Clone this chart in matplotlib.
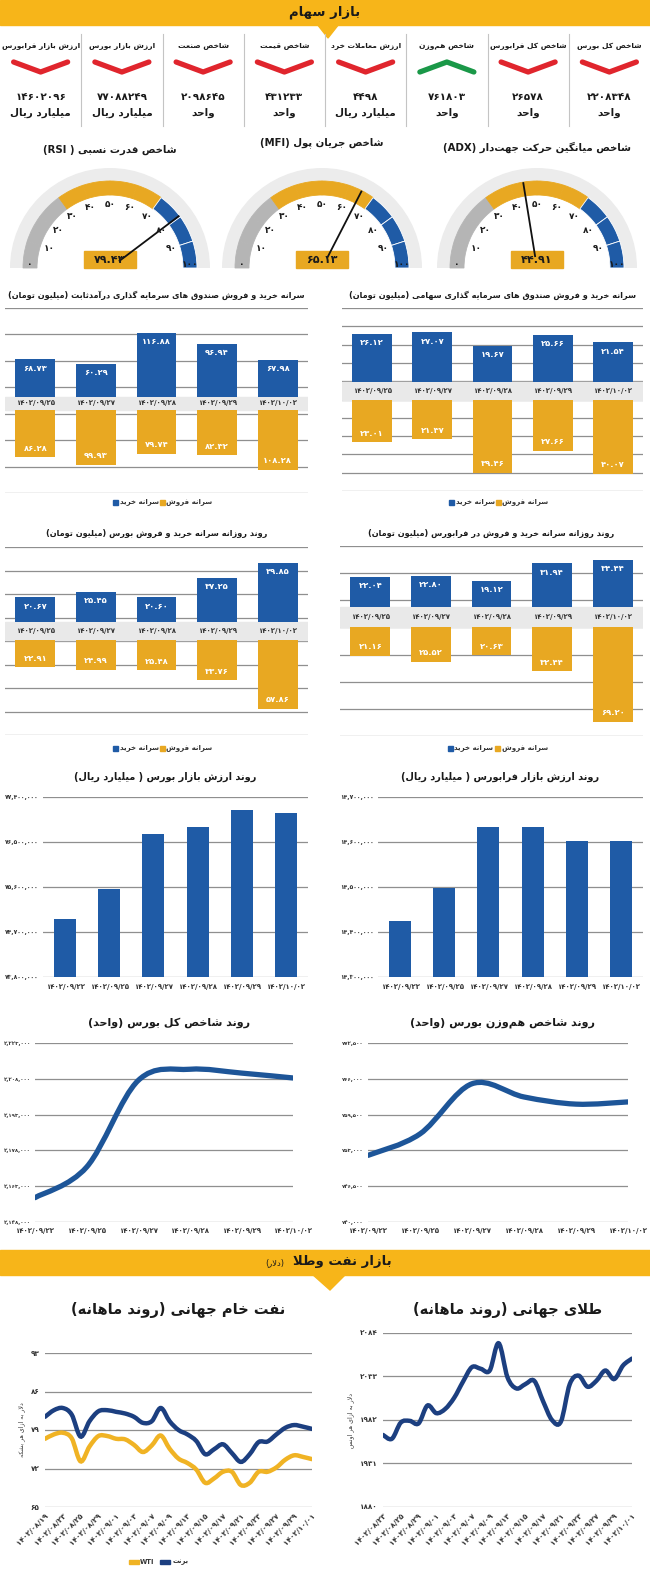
#!/usr/bin/env python3
# Stock market / oil & gold daily infographic, redrawn with matplotlib.

import re

import matplotlib
matplotlib.use("Agg")
from matplotlib import pyplot as plt
from matplotlib.patches import Rectangle, Wedge, Polygon, PathPatch
from matplotlib.path import Path
import numpy as np

plt.rcParams["font.family"] = ["DejaVu Sans"]

W, H = 650, 1571

BLUE = "#1f5ba6"
GOLD = "#e8a822"
HEAD = "#f7b519"
NAVY = "#1c3f80"
BAND = "#e9e9e9"
GRID = "#8f8f8f"
TXT = "#1a1a1a"

# ---- data -------------------------------------------------------------
TOP_LABELS = ["شاخص کل بورس", "شاخص کل فرابورس", "شاخص هم‌وزن",
              "ارزش معاملات خرد", "شاخص قیمت", "شاخص صنعت",
              "ارزش بازار بورس", "ارزش بازار فرابورس"]
TOP_VALUES = [2208348, 26578, 761803, 4498, 431233, 2098645,
              77088249, 14602096]
TOP_UNITS = ["واحد", "واحد", "واحد", "میلیارد ریال", "واحد", "واحد",
             "میلیارد ریال", "میلیارد ریال"]
TOP_UP = [False, False, True, False, False, False, False, False]

GAUGE_TITLES = ["شاخص قدرت نسبی ( RSI)", "شاخص جریان پول (MFI)",
                "شاخص میانگین حرکت جهت‌دار (ADX)"]
GAUGE_VALUES = [79.43, 65.13, 44.91]

FLOW_DATES = ["1402/09/25", "1402/09/27", "1402/09/28", "1402/09/29",
              "1402/10/02"]
FI_BUY = [68.73, 60.29, 116.88, 96.94, 67.98]
FI_SELL = [86.28, 99.93, 79.74, 82.32, 108.28]
EQ_BUY = [26.12, 27.07, 19.67, 25.66, 21.54]
EQ_SELL = [23.01, 21.37, 39.46, 27.66, 40.07]
BOURSE_BUY = [20.67, 25.45, 20.60, 37.25, 49.85]
BOURSE_SELL = [22.91, 24.99, 25.48, 33.76, 57.86]
FARA_BUY = [22.04, 22.80, 19.12, 31.94, 34.44]
FARA_SELL = [21.16, 25.52, 20.63, 32.44, 69.20]

TREND_DATES = ["1402/09/22", "1402/09/25", "1402/09/27", "1402/09/28",
               "1402/09/29", "1402/10/02"]
BOURSE_VALUE = [74967000, 75567000, 76653000, 76800000, 77147000, 77088249]
FARA_VALUE = [14423700, 14497800, 14633300, 14633300, 14602096, 14602096]
TOTAL_INDEX = [2158200, 2171000, 2207300, 2212000, 2210400, 2208348]
EQW_INDEX = [752100, 756000, 765100, 762700, 761400, 761803]

OIL_DATES = ["1402/08/19", "1402/08/23", "1402/08/25", "1402/08/29",
             "1402/09/01", "1402/09/03", "1402/09/07", "1402/09/09",
             "1402/09/13", "1402/09/15", "1402/09/17", "1402/09/21",
             "1402/09/23", "1402/09/27", "1402/09/29", "1402/10/01"]
BRENT = [81.4, 82.6, 83.0, 81.8, 77.8, 80.6, 82.4, 82.6, 82.3, 82.0, 81.4,
         80.3, 80.6, 83.0, 80.6, 79.0, 78.2, 77.0, 74.6, 75.5, 76.4, 74.8,
         73.2, 74.6, 76.8, 76.9, 78.2, 79.4, 79.9, 79.6, 79.2]
WTI = [77.4, 78.2, 78.5, 77.5, 73.3, 76.0, 77.9, 77.9, 77.4, 77.3, 76.3,
       75.0, 76.2, 78.0, 75.6, 73.8, 73.0, 71.8, 69.4, 70.2, 71.4, 71.4,
       69.0, 69.4, 71.4, 71.4, 72.2, 73.6, 74.4, 74.1, 73.7]

GOLD_DATES = ["1402/08/23", "1402/08/25", "1402/08/29", "1402/09/01",
              "1402/09/03", "1402/09/07", "1402/09/09", "1402/09/13",
              "1402/09/15", "1402/09/17", "1402/09/21", "1402/09/23",
              "1402/09/27", "1402/09/29", "1402/10/01"]
GOLD_PRICE = [1964.5, 1960, 1979, 1981, 1978, 1999, 1990, 1995, 2008, 2027,
              2044, 2042, 2040, 2072, 2032, 2019, 2024, 2028, 2004, 1982,
              1980, 2024, 2034, 2021, 2028, 2040, 2030, 2046, 2054]

# ---- persian text helpers ----------------------------------------------
DUAL = {"ب": 0xFE8F, "ت": 0xFE95, "ث": 0xFE99, "ج": 0xFE9D, "ح": 0xFEA1,
        "خ": 0xFEA5, "س": 0xFEB1, "ش": 0xFEB5, "ص": 0xFEB9, "ض": 0xFEBD,
        "ط": 0xFEC1, "ظ": 0xFEC5, "ع": 0xFEC9, "غ": 0xFECD, "ف": 0xFED1,
        "ق": 0xFED5, "ك": 0xFED9, "ل": 0xFEDD, "م": 0xFEE1, "ن": 0xFEE5,
        "ه": 0xFEE9, "ي": 0xFEF1, "ی": 0xFBFC, "پ": 0xFB56, "چ": 0xFB7A,
        "ک": 0xFB8E, "گ": 0xFB92, "ئ": 0xFE89}
RIGHT = {"ا": 0xFE8D, "آ": 0xFE81, "د": 0xFEA9, "ذ": 0xFEAB, "ر": 0xFEAD,
         "ز": 0xFEAF, "ژ": 0xFB8A, "و": 0xFEED, "ة": 0xFE93}


def shape(s):
    out = []
    prev_joins = False
    i = 0
    while i < len(s):
        c = s[i]
        nxt = s[i + 1] if i + 1 < len(s) else ""
        if c == "ل" and nxt in ("ا", "آ"):
            lig = 0xFEFB if nxt == "ا" else 0xFEF5
            out.append(chr(lig + (1 if prev_joins else 0)))
            prev_joins = False
            i += 2
            continue
        if c in DUAL or c in RIGHT:
            base = DUAL.get(c, RIGHT.get(c))
            nj = c in DUAL and (nxt in DUAL or nxt in RIGHT)
            if prev_joins and nj:
                form = 3
            elif prev_joins:
                form = 1
            elif nj:
                form = 2
            else:
                form = 0
            out.append(chr(base + form))
            prev_joins = c in DUAL
        else:
            if c != "\u200c":
                out.append(c)
            prev_joins = False
        i += 1
    return "".join(out)


def fd(s):
    return str(s).translate(str.maketrans("0123456789", "۰۱۲۳۴۵۶۷۸۹"))


def fa(s):
    rev = shape(fd(s))[::-1]
    rev = re.sub(r"[A-Za-z0-9۰-۹.,/]+", lambda m: m.group(0)[::-1], rev)
    return rev.translate(str.maketrans("()", ")("))


# ---- figure -----------------------------------------------------------
fig = plt.figure(figsize=(W / 100, H / 100), dpi=100)
bg = fig.add_axes([0, 0, 1, 1])
bg.set_xlim(0, W)
bg.set_ylim(H, 0)
bg.axis("off")


def add_ax(x0, y0, x1, y1):
    ax = fig.add_axes([x0 / W, 1 - y1 / H, (x1 - x0) / W, (y1 - y0) / H])
    ax.patch.set_visible(False)
    for sp in ax.spines.values():
        sp.set_visible(False)
    return ax


# header
bg.add_patch(Rectangle((0, 0), W, 25, color=HEAD))
bg.add_patch(Polygon([[317, 24], [339, 24], [328, 38]], color=HEAD))
bg.text(325, 12, fa("بازار سهام"), ha="center", va="center", fontsize=9.5,
        fontweight="bold", color=TXT)

col_w = W / 8
for k in range(1, 8):
    bg.plot([k * col_w] * 2, [34, 126], color="#c4c4c4", lw=0.8)
for i, (lab, val, unit, up) in enumerate(zip(TOP_LABELS, TOP_VALUES,
                                             TOP_UNITS, TOP_UP)):
    cx = W - (i + 0.5) * col_w
    bg.text(cx, 46, fa(lab), ha="center", va="center", fontsize=5.4,
            fontweight="bold", color=TXT)
    ys = [72, 62, 72] if up else [62, 72, 62]
    bg.plot([cx - 27, cx, cx + 27], ys, color="#1a9848" if up else "#e0252d",
            lw=3.8, solid_capstyle="round", solid_joinstyle="round")
    bg.text(cx, 97, fd(val), ha="center", va="center", fontsize=7.5,
            fontweight="bold", color=TXT)
    bg.text(cx, 113, fa(unit), ha="center", va="center", fontsize=7.5,
            fontweight="bold", color=TXT)

# gauges
GAUGE_X = [110, 322, 537]
GAUGE_TITLE_Y = [150, 143, 147]
for cx, ty, title, val in zip(GAUGE_X, GAUGE_TITLE_Y, GAUGE_TITLES,
                              GAUGE_VALUES):
    cy, R = 268, 100
    bg.text(cx, ty, fa(title), ha="center", va="center", fontsize=7.3,
            fontweight="bold", color=TXT)
    bg.add_patch(Wedge((cx, cy), R, 180, 360, width=0.13 * R, fc="#ececec",
                       ec="none"))
    for v in range(0, 100, 10):
        col = "#b5b5b5" if v < 30 else (GOLD if v < 70 else BLUE)
        bg.add_patch(Wedge((cx, cy), 0.87 * R, 180 + 1.8 * v,
                           180 + 1.8 * (v + 10), width=0.14 * R, fc=col,
                           ec="white" if v >= 70 else col, lw=0.6))
    for v in range(0, 101, 10):
        a = np.radians(180 + 1.8 * v)
        r = 0.8 * R if v in (0, 100) else 0.64 * R
        dy = -4 if v in (0, 100) else 0
        bg.text(cx + r * np.cos(a), cy + r * np.sin(a) + dy, fd(v),
                ha="center", va="center", fontsize=6.5, fontweight="bold",
                color=TXT)
    a = np.radians(180 + 1.8 * val)
    bg.plot([cx + 0.12 * R * np.cos(a), cx + 0.86 * R * np.cos(a)],
            [cy + 0.12 * R * np.sin(a), cy + 0.86 * R * np.sin(a)],
            color="#111111", lw=1.3)
    bg.add_patch(Rectangle((cx - 26, cy - 17), 52, 17, color=GOLD))
    bg.text(cx, cy - 8.5, fd(f"{val:.2f}"), ha="center", va="center",
            fontsize=8, fontweight="bold", color=TXT)


# buy / sell per-capita charts
def flow_chart(x0, x1, top, bot, yc, hb, s, ngrid, title, title_y, legend_y,
               buy, sell):
    ax = add_ax(x0, top, x1, bot)
    ymax, ymin = (yc - top) / s, (yc - bot) / s
    h = hb / s
    ax.set_ylim(ymin, ymax)
    ax.set_xlim(-0.5, len(buy) - 0.5)
    for gy in np.linspace(ymin, ymax, ngrid):
        ax.axhline(gy, color=GRID, lw=0.9, zorder=0)
    ax.axhspan(-h, h, color=BAND, zorder=1)
    x = np.arange(len(buy))
    ax.bar(x, buy, 0.66, bottom=h, color=BLUE, zorder=2)
    ax.bar(x, -np.array(sell), 0.66, bottom=-h, color=GOLD, zorder=2)
    off = 9 / s
    for xi, b, sv, d in zip(x, buy, sell, FLOW_DATES):
        ax.text(xi, h + max(b - off, b / 2), fd(f"{b:.2f}"), ha="center",
                va="center", fontsize=6, fontweight="bold", color="white",
                zorder=3)
        ax.text(xi, -h - max(sv - off, sv / 2), fd(f"{sv:.2f}"),
                ha="center", va="center", fontsize=6, fontweight="bold",
                color="white", zorder=3)
        ax.text(xi, 0, fd(d), ha="center", va="center", fontsize=5,
                fontweight="bold", color="#333333", zorder=3)
    ax.set_xticks([])
    ax.set_yticks([])
    mid = (x0 + x1) / 2
    bg.text(mid, title_y, fa(title), ha="center", va="center", fontsize=5.9,
            fontweight="bold", color=TXT)
    bg.add_patch(Rectangle((mid - 44, legend_y - 2.5), 5, 5, color=BLUE))
    bg.text(mid - 37, legend_y, fa("سرانه خرید"), ha="left", va="center",
            fontsize=5, fontweight="bold", color="#333333")
    bg.add_patch(Rectangle((mid + 3, legend_y - 2.5), 5, 5, color=GOLD))
    bg.text(mid + 10, legend_y, fa("سرانه فروش"), ha="left", va="center",
            fontsize=5, fontweight="bold", color="#333333")


flow_chart(5, 308, 308, 493, 403.5, 6.5, 0.55, 8,
           "سرانه خرید و فروش صندوق های سرمایه گذاری درآمدثابت (میلیون تومان)",
           295, 502, FI_BUY, FI_SELL)
flow_chart(342, 643, 308, 491, 391, 9, 1.84, 11,
           "سرانه خرید و فروش صندوق های سرمایه گذاری سهامی (میلیون تومان)",
           295, 502, EQ_BUY, EQ_SELL)
flow_chart(5, 308, 547, 735, 631, 9, 1.19, 9,
           "روند روزانه سرانه خرید و فروش بورس (میلیون تومان)",
           533, 748, BOURSE_BUY, BOURSE_SELL)
flow_chart(340, 643, 546, 736, 617, 10, 1.37, 8,
           "روند روزانه سرانه خرید و فروش در فرابورس (میلیون تومان)",
           533, 748, FARA_BUY, FARA_SELL)


def style_axis(ax, ticks, ylab_size):
    ax.set_yticks(ticks)
    ax.set_yticklabels([fd(f"{t:,}") for t in ticks], fontsize=ylab_size,
                       fontweight="bold", color="#333333")
    ax.tick_params(length=0, pad=3)
    ax.grid(axis="y", color=GRID, lw=0.9)
    ax.set_axisbelow(True)


# market value bar charts
def value_chart(x0, x1, title, values, ticks):
    ax = add_ax(x0, 797, x1, 977)
    x = np.arange(len(values))
    ax.bar(x, values, 0.5, color=BLUE, zorder=2)
    ax.set_xlim(-0.5, len(values) - 0.5)
    ax.set_ylim(ticks[0], ticks[-1])
    style_axis(ax, ticks, 4.3)
    ax.set_xticks(x)
    ax.set_xticklabels([fd(d) for d in TREND_DATES], fontsize=5,
                       fontweight="bold", color="#333333")
    ax.tick_params(axis="x", pad=5)
    bg.text((x0 + x1) / 2 - 10, 777, fa(title), ha="center", va="center",
            fontsize=7, fontweight="bold", color=TXT)


value_chart(43, 308, "روند ارزش بازار بورس ( میلیارد ریال)", BOURSE_VALUE,
            [73800000, 74700000, 75600000, 76500000, 77400000])
value_chart(378, 643, "روند ارزش بازار فرابورس ( میلیارد ریال)", FARA_VALUE,
            [14300000, 14400000, 14500000, 14600000, 14700000])


def smooth_path(x, y):
    verts = [(x[0], y[0])]
    codes = [Path.MOVETO]
    n = len(x)
    for i in range(n - 1):
        p0 = (x[max(i - 1, 0)], y[max(i - 1, 0)])
        p1 = (x[i], y[i])
        p2 = (x[i + 1], y[i + 1])
        p3 = (x[min(i + 2, n - 1)], y[min(i + 2, n - 1)])
        c1 = (p1[0] + (p2[0] - p0[0]) / 6, p1[1] + (p2[1] - p0[1]) / 6)
        c2 = (p2[0] - (p3[0] - p1[0]) / 6, p2[1] - (p3[1] - p1[1]) / 6)
        verts += [c1, c2, p2]
        codes += [Path.CURVE4] * 3
    return Path(verts, codes)


def trend_chart(x0, x1, title, values, ticks):
    ax = add_ax(x0, 1043, x1, 1222)
    x = np.arange(len(values))
    ax.add_patch(PathPatch(smooth_path(x, values), fill=False, ec="#1d5598",
                           lw=3.8, capstyle="round", zorder=3))
    ax.set_xlim(0, len(values) - 1)
    ax.set_ylim(ticks[0], ticks[-1])
    style_axis(ax, ticks, 3.9)
    ax.set_xticks(x)
    ax.set_xticklabels([fd(d) for d in TREND_DATES], fontsize=5,
                       fontweight="bold", color="#333333")
    ax.tick_params(axis="x", pad=4)
    bg.text((x0 + x1) / 2 + 5, 1023, fa(title), ha="center", va="center",
            fontsize=8, fontweight="bold", color=TXT)


trend_chart(35, 293, "روند شاخص کل بورس (واحد)", TOTAL_INDEX,
            [2148000, 2163000, 2178000, 2193000, 2208000, 2223000])
trend_chart(368, 628, "روند شاخص هم‌وزن بورس (واحد)", EQW_INDEX,
            [740000, 746500, 753000, 759500, 766000, 772500])

# oil & gold header
bg.add_patch(Rectangle((0, 1250), W, 25, color=HEAD))
bg.add_patch(Polygon([[312, 1274], [346, 1274], [330, 1290]], color=HEAD))
bg.text(392, 1262, fa("بازار نفت وطلا"), ha="right", va="center",
        fontsize=9.5, fontweight="bold", color=TXT)
bg.text(284, 1263, fa("(دلار)"), ha="right", va="center", fontsize=6,
        color=TXT)


def monthly_chart(x0, x1, y0, title, ylabel, series, dates, ticks):
    ax = add_ax(x0, y0, x1, 1507)
    n = len(series[0][0])
    x = np.arange(n)
    for vals, col in series:
        ax.add_patch(PathPatch(smooth_path(x, vals), fill=False, ec=col,
                               lw=3.2, capstyle="round", zorder=3))
    ax.set_xlim(0, n - 1)
    ax.set_ylim(ticks[0], ticks[-1])
    ax.set_yticks(ticks)
    ax.set_yticklabels([fd(t) for t in ticks], fontsize=5.2,
                       fontweight="bold", color="#333333")
    ax.grid(axis="y", color=GRID, lw=0.9)
    ax.set_xticks(np.arange(0, n, 2))
    ax.set_xticklabels([fd(d) for d in dates], fontsize=5.3,
                       fontweight="bold", color="#333333", rotation=45,
                       ha="right", rotation_mode="anchor")
    ax.tick_params(length=0, pad=4)
    ax.set_ylabel(fa(ylabel), fontsize=4.5, color="#333333", labelpad=4)
    bg.text((x0 + x1) / 2, 1310, fa(title), ha="center", va="center",
            fontsize=10.5, fontweight="bold", color=TXT)
    return ax


monthly_chart(45, 312, 1353, "نفت خام جهانی (روند ماهانه)",
              "دلار به ازای هر بشکه", [(BRENT, NAVY), (WTI, "#f0b324")],
              OIL_DATES, [65, 72, 79, 86, 93])
monthly_chart(383, 632, 1333, "طلای جهانی (روند ماهانه)",
              "دلار به ازای هر اونس", [(GOLD_PRICE, NAVY)], GOLD_DATES,
              [1880, 1931, 1982, 2033, 2084])

# oil legend
bg.add_patch(Rectangle((129, 1560), 10, 3.5, color="#f0b324"))
bg.text(140, 1562, "WTI", ha="left", va="center", fontsize=4.8,
        fontweight="bold", color="#333333")
bg.add_patch(Rectangle((160, 1560), 10, 3.5, color=NAVY))
bg.text(173, 1562, fa("برنت"), ha="left", va="center", fontsize=4.8,
        fontweight="bold", color="#333333")

fig.savefig("out.png", dpi=100)
